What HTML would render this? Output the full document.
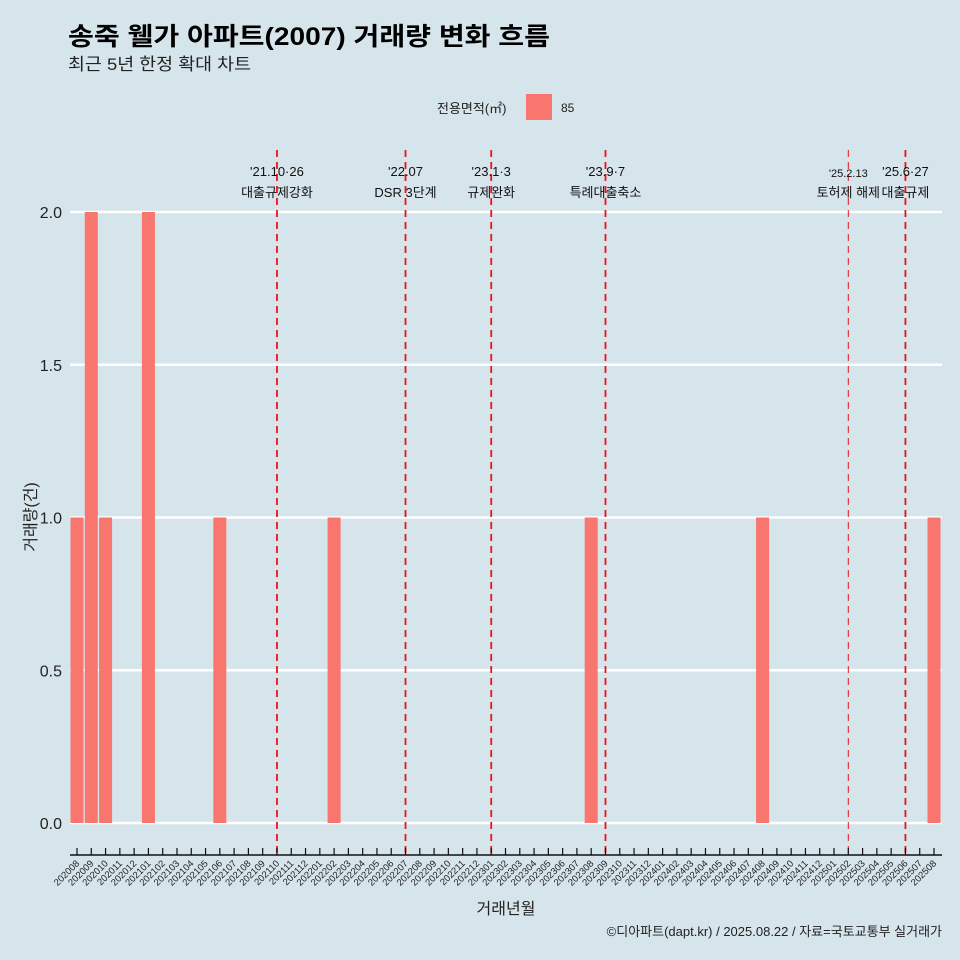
<!DOCTYPE html>
<html><head><meta charset="utf-8"><style>
body{margin:0;background:#d6e4eb;}
svg{display:block;font-family:"Liberation Sans","Noto Sans CJK KR",sans-serif;}
</style></head><body>
<svg id="c" width="960" height="960" viewBox="0 0 960 960">
<rect width="960" height="960" fill="#d6e4eb"/>
<text x="68" y="45" font-size="25" font-weight="bold" fill="#000" textLength="482" lengthAdjust="spacingAndGlyphs">송죽 웰가 아파트(2007) 거래량 변화 흐름</text>
<text x="68" y="70" font-size="17" fill="#222" textLength="183" lengthAdjust="spacingAndGlyphs">최근 5년 한정 확대 차트</text>
<g>
<text x="437" y="113" font-size="13" fill="#222">전용면적(㎡)</text>
<rect x="526" y="94" width="26" height="26" fill="#f8766d"/>
<text x="561" y="112" font-size="12" fill="#222">85</text>
</g>
<g id="grid"></g><g id="bars"></g><g id="events"></g><g id="axes"></g>
<text x="36" y="517" font-size="16" fill="#222" text-anchor="middle" transform="rotate(-90 36 517)">거래량(건)</text>
<text x="506" y="914" font-size="16" fill="#222" text-anchor="middle">거래년월</text>
<text x="942" y="936" font-size="13" fill="#222" text-anchor="end">©디아파트(dapt.kr) / 2025.08.22 / 자료=국토교통부 실거래가</text>
</svg>
<script>
const months=[];
for(let y=2020;y<=2025;y++)for(let m=1;m<=12;m++){const k=y*100+m;if(k>=202008&&k<=202508)months.push(String(k));}
const barMonths=["202008","202009","202010","202101","202106","202202","202308","202408","202508"];
const barValues=[1,2,1,2,1,1,1,1,1];
const yTicks=[0,0.5,1,1.5,2];
const yTickLabels=["0.0","0.5","1.0","1.5","2.0"];
const eventMonths=["202110","202207","202301","202309","202502","202506"];
const eventDates=["'21.10·26","'22.07","'23.1·3","'23.9·7","'25.2.13","'25.6·27"];
const eventLabels=["대출규제강화","DSR 3단계","규제완화","특례대출축소","토허제 해제","대출규제"];
const NS="http://www.w3.org/2000/svg";
const x0=77,step=(934-77)/60;
const xs=m=>x0+months.indexOf(m)*step;
const ys=v=>823-v*305.5;
function mk(tag,attrs,parent,txt){const e=document.createElementNS(NS,tag);for(const k in attrs)e.setAttribute(k,attrs[k]);if(txt!==undefined)e.textContent=txt;document.getElementById(parent).appendChild(e);return e;}
yTicks.forEach((v,i)=>{
 let l=mk('line',{x1:70,x2:942,y1:ys(v),y2:ys(v),stroke:'#fff','stroke-width':2.5},'grid');
 
 
 let t=mk('text',{x:62,y:ys(v)+6,'font-size':16,fill:'#222','text-anchor':'end'},'axes',yTickLabels[i]);
 
 
});
barMonths.forEach((m,i)=>{
 let r=mk('rect',{x:xs(m)-6.5,y:ys(barValues[i]),width:13,height:ys(0)-ys(barValues[i]),fill:'#f8766d'},'bars');
 
 
});
eventMonths.forEach((m,i)=>{
 const x=xs(m),thin=m==="202502";
 let l=mk('line',{x1:x,x2:x,y1:150,y2:855,stroke:'#e8141c','stroke-width':thin?1:1.8,'stroke-dasharray':'7,5'},'events');
 
 
 let t1=mk('text',{x:x,y:thin?177:176,'font-size':thin?11:13,fill:'#111','text-anchor':'middle'},'events',eventDates[i]);
 
 
 let t2=mk('text',{x:x,y:197,'font-size':13,fill:'#111','text-anchor':'middle'},'events',eventLabels[i]);
 
 
});
let ax=mk('line',{x1:70,x2:942,y1:855,y2:855,stroke:'#111','stroke-width':1.5},'axes');


months.forEach(m=>{
 const x=xs(m);
 let tk=mk('line',{x1:x,x2:x,y1:848,y2:855,stroke:'#111','stroke-width':1.2},'axes');
 
 
 let t=mk('text',{x:x+3,y:864,'font-size':9.5,fill:'#222','text-anchor':'end',transform:`rotate(-45 ${x+3} 864)`},'axes',m);
 
 
});
</script>
</body></html>
